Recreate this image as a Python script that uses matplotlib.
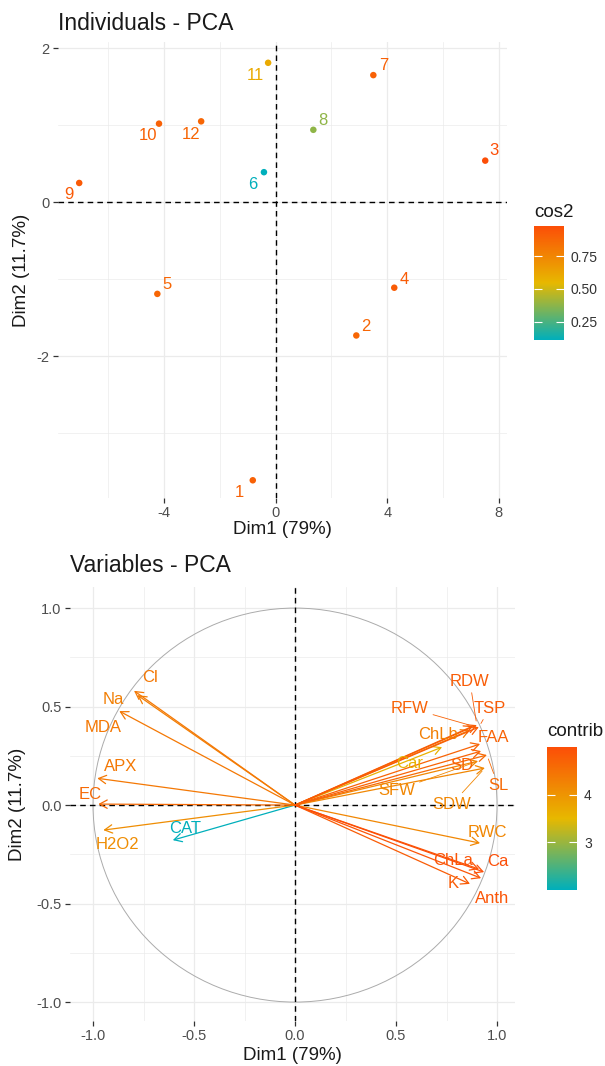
import matplotlib
matplotlib.use('Agg')
import matplotlib.pyplot as plt
from matplotlib.colors import LinearSegmentedColormap, Normalize
from matplotlib.cm import ScalarMappable
from matplotlib.patches import Circle

plt.rcParams['font.family'] = ['Liberation Sans', 'DejaVu Sans']
plt.rcParams['axes.unicode_minus'] = False

# ---------------- data: individuals ----------------
ind_labels = ['1', '2', '3', '4', '5', '6', '7', '8', '9', '10', '11', '12']
ind_dim1 = [-0.82, 2.89, 7.51, 4.25, -4.24, -0.42, 3.50, 1.35, -7.04, -4.18, -0.27, -2.67]
ind_dim2 = [-3.61, -1.73, 0.54, -1.11, -1.19, 0.39, 1.65, 0.94, 0.25, 1.02, 1.81, 1.05]
ind_cos2 = [0.90, 0.88, 0.98, 0.92, 0.88, 0.11, 0.90, 0.38, 0.93, 0.90, 0.60, 0.88]

# ---------------- data: variables ----------------
var_names = ['Cl', 'Na', 'MDA', 'APX', 'EC', 'H2O2', 'CAT', 'RDW', 'TSP', 'RFW', 'ChLb',
             'FAA', 'Car', 'SD', 'SL', 'SFW', 'SDW', 'RWC', 'ChLa', 'Ca', 'Anth', 'K']
var_dim1 = [-0.797, -0.780, -0.870, -0.979, -0.974, -0.949, -0.605, 0.900, 0.910, 0.881, 0.866,
            0.916, 0.728, 0.921, 0.950, 0.906, 0.940, 0.916, 0.911, 0.936, 0.921, 0.866]
var_dim2 = [0.580, 0.558, 0.477, 0.136, 0.005, -0.127, -0.178, 0.406, 0.396, 0.401, 0.381,
            0.310, 0.294, 0.274, 0.254, 0.223, 0.188, -0.193, -0.325, -0.340, -0.371, -0.400]
var_contrib = [4.4, 4.3, 4.4, 4.4, 4.6, 4.1, 2.0, 4.8, 4.8, 4.7, 4.3,
               4.7, 3.6, 4.7, 4.6, 4.2, 4.2, 4.2, 4.9, 5.0, 4.9, 4.8]

# ---------------- style (label placement in pixels, y downwards) ----------------
ind_label_off = {'1': (-13, 12), '2': (10, -9), '3': (9, -10), '4': (10, -8), '5': (10, -9),
                 '6': (-11, 12), '7': (10, -10), '8': (10, -9), '9': (-10, 12), '10': (-11, 12),
                 '11': (-13, 13), '12': (-10, 13)}
var_label_off = {'Cl': (16, -13), 'Na': (-24, 4), 'MDA': (-16, 16), 'APX': (23, -12),
                 'EC': (-8, -10), 'H2O2': (14, 14), 'CAT': (12, -12), 'RDW': (-7, -44),
                 'TSP': (11, -19), 'RFW': (-63, -18), 'ChLb': (-32, 4), 'FAA': (13, -7),
                 'Car': (-32, 16), 'SD': (-19, 14), 'SL': (11, 30), 'SFW': (-81, 29),
                 'SDW': (-33, 36), 'RWC': (7, -11), 'ChLa': (-26, -9), 'Ca': (14, -11),
                 'Anth': (11, 20), 'K': (-17, 0)}
var_with_segment = {'RDW', 'TSP', 'RFW', 'SL', 'SFW', 'SDW'}

W, H = 605, 1066
fig = plt.figure(figsize=(W / 100, H / 100), dpi=100)


def fr(l, t, r, b):
    return [l / W, 1 - b / H, (r - l) / W, (b - t) / H]


cmap = LinearSegmentedColormap.from_list('fviz', ['#00AFBB', '#E7B800', '#FC4E07'])
GRID = '#EBEBEB'
TICKC = '#4D4D4D'


def style_axes(ax, xmaj, xmin, ymaj, ymin, xlab, ylab):
    for s in ax.spines.values():
        s.set_visible(False)
    ax.set_xticks(xmaj)
    ax.set_xticklabels(xlab)
    ax.set_xticks(xmin, minor=True)
    ax.set_yticks(ymaj)
    ax.set_yticklabels(ylab)
    ax.set_yticks(ymin, minor=True)
    ax.grid(which='major', color=GRID, lw=0.9)
    ax.grid(which='minor', color=GRID, lw=0.5)
    ax.set_axisbelow(True)
    ax.tick_params(which='major', length=3.5, width=0.9, color='#333333',
                   labelsize=10.5, labelcolor=TICKC, pad=2.5)
    ax.tick_params(which='minor', length=0)


# ================= top: individuals =================
ax1 = fig.add_axes(fr(58, 42, 507, 498))
ax1.set_xlim(-7.8, 8.29)
ax1.set_ylim(-3.84, 2.08)
style_axes(ax1, [-4, 0, 4, 8], [-6, -2, 2, 6], [-2, 0, 2], [-3, -1, 1],
           ['-4', '0', '4', '8'], ['-2', '0', '2'])
ax1.axhline(0, color='black', lw=1.0, ls=(0, (4, 3)), zorder=1)
ax1.axvline(0, color='black', lw=1.0, ls=(0, (4, 3)), zorder=1)

norm1 = Normalize(min(ind_cos2), max(ind_cos2))
ax1.scatter(ind_dim1, ind_dim2, c=ind_cos2, cmap=cmap, norm=norm1, s=22, zorder=3, linewidths=0)
for lab, x, y, c in zip(ind_labels, ind_dim1, ind_dim2, ind_cos2):
    dx, dy = ind_label_off[lab]
    ax1.annotate(lab, (x, y), xytext=(dx, -dy), textcoords='offset pixels',
                 ha='center', va='center', fontsize=12, color=cmap(norm1(c)), zorder=4)

fig.text(58 / W, 1 - 24 / H, 'Individuals - PCA', fontsize=16.5, ha='left', va='center', color='#1A1A1A')
fig.text(282.5 / W, 1 - 530 / H, 'Dim1 (79%)', fontsize=13.5, ha='center', va='center', color='#1A1A1A')
fig.text(22 / W, 1 - 270 / H, 'Dim2 (11.7%)', fontsize=13.5, ha='center', va='center',
         rotation=90, color='#1A1A1A')

cax1 = fig.add_axes(fr(534, 226, 564, 340))
cb1 = fig.colorbar(ScalarMappable(norm=norm1, cmap=cmap), cax=cax1)
cb1.outline.set_visible(False)
cb1.set_ticks([0.25, 0.5, 0.75])
cb1.set_ticklabels(['0.25', '0.50', '0.75'])
cax1.tick_params(direction='in', color='white', length=6, width=0.8, left=True, right=True,
                 labelsize=10, labelcolor='#333333', pad=5)
fig.text(534 / W, 1 - 212 / H, 'cos2', fontsize=13.5, ha='left', va='center', color='#1A1A1A')

# ================= bottom: variables =================
ax2 = fig.add_axes(fr(70, 587, 515, 1021))
ax2.set_xlim(-1.114, 1.089)
ax2.set_ylim(-1.096, 1.107)
style_axes(ax2, [-1, -0.5, 0, 0.5, 1], [-0.75, -0.25, 0.25, 0.75],
           [-1, -0.5, 0, 0.5, 1], [-0.75, -0.25, 0.25, 0.75],
           ['-1.0', '-0.5', '0.0', '0.5', '1.0'], ['-1.0', '-0.5', '0.0', '0.5', '1.0'])
ax2.add_patch(Circle((0, 0), 1, fill=False, ec='#ABABAB', lw=0.7, zorder=1))
ax2.axhline(0, color='black', lw=1.0, ls=(0, (4, 3)), zorder=1)
ax2.axvline(0, color='black', lw=1.0, ls=(0, (4, 3)), zorder=1)

norm2 = Normalize(min(var_contrib), max(var_contrib))
order = sorted(range(len(var_names)), key=lambda i: var_contrib[i])
for i in order:
    x, y, c = var_dim1[i], var_dim2[i], cmap(norm2(var_contrib[i]))
    ax2.annotate('', xy=(x, y), xytext=(0, 0),
                 arrowprops=dict(arrowstyle='->,head_length=0.55,head_width=0.3', color=c,
                                 lw=0.9, shrinkA=0, shrinkB=0, mutation_scale=10), zorder=3)
for i, name in enumerate(var_names):
    x, y, c = var_dim1[i], var_dim2[i], cmap(norm2(var_contrib[i]))
    dx, dy = var_label_off[name]
    props = None
    if name in var_with_segment:
        props = dict(arrowstyle='-', color=c, lw=0.6, shrinkA=1, shrinkB=3)
    ax2.annotate(name, (x, y), xytext=(dx, -dy), textcoords='offset pixels',
                 ha='center', va='center', fontsize=12, color=c, zorder=4,
                 arrowprops=props)

fig.text(70 / W, 1 - 566 / H, 'Variables - PCA', fontsize=16.5, ha='left', va='center', color='#1A1A1A')
fig.text(292.5 / W, 1 - 1055 / H, 'Dim1 (79%)', fontsize=13.5, ha='center', va='center', color='#1A1A1A')
fig.text(18 / W, 1 - 804 / H, 'Dim2 (11.7%)', fontsize=13.5, ha='center', va='center',
         rotation=90, color='#1A1A1A')

cax2 = fig.add_axes(fr(547, 747, 577, 890))
cb2 = fig.colorbar(ScalarMappable(norm=norm2, cmap=cmap), cax=cax2)
cb2.outline.set_visible(False)
cb2.set_ticks([3, 4])
cb2.set_ticklabels(['3', '4'])
cax2.tick_params(direction='in', color='white', length=6, width=0.8, left=True, right=True,
                 labelsize=10, labelcolor='#333333', pad=5)
fig.text(547 / W, 1 - 732 / H, 'contrib', fontsize=13.5, ha='left', va='center', color='#1A1A1A')

fig.savefig('out.png', dpi=100, facecolor='white')
